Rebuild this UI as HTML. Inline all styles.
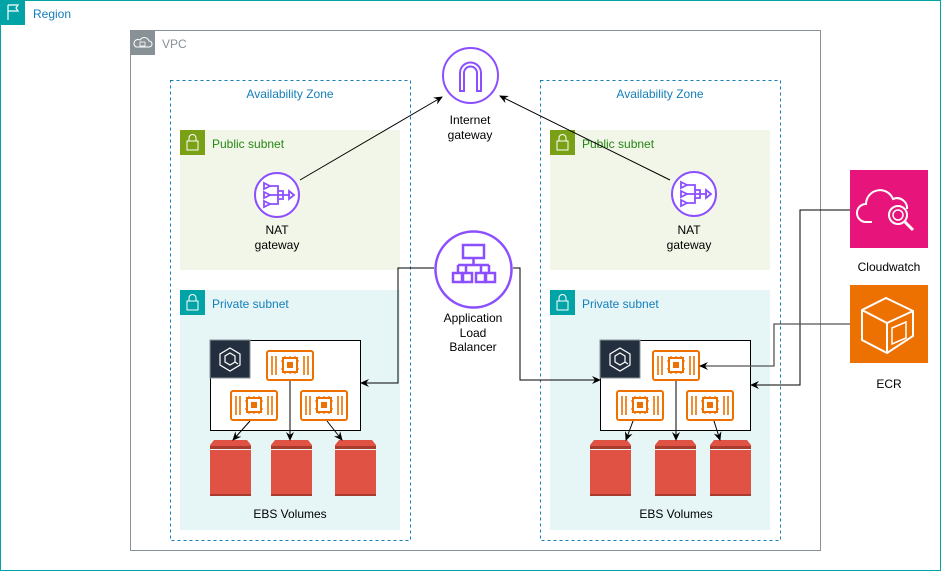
<!DOCTYPE html>
<html><head><meta charset="utf-8"><style>
html,body{margin:0;padding:0;background:#fff}
svg{display:block;font-family:"Liberation Sans",Arial,sans-serif}
</style></head><body>
<svg width="941" height="571" viewBox="0 0 941 571" xmlns="http://www.w3.org/2000/svg">
<defs>
<marker id="ar" markerWidth="10" markerHeight="10" refX="8" refY="5" orient="auto" markerUnits="userSpaceOnUse"><path d="M0,1 L9,5 L0,9 L3,5 z" fill="#000"/></marker>
<g id="inst">
<rect x="1" y="1" width="46" height="29" rx="2" fill="#fff" stroke="#ED7100" stroke-width="2"/>
<g stroke="#ED7100" stroke-width="1.6"><line x1="6" y1="6" x2="6" y2="25"/><line x1="10" y1="6" x2="10" y2="25"/><line x1="38" y1="6" x2="38" y2="25"/><line x1="42" y1="6" x2="42" y2="25"/></g>
<rect x="17" y="8" width="14" height="14" fill="none" stroke="#ED7100" stroke-width="2"/>
<rect x="21" y="12" width="6" height="6" fill="#ED7100"/>
<g stroke="#ED7100" stroke-width="1.2"><line x1="19" y1="6" x2="19" y2="8"/><line x1="24" y1="6" x2="24" y2="8"/><line x1="29" y1="6" x2="29" y2="8"/><line x1="19" y1="22" x2="19" y2="24"/><line x1="24" y1="22" x2="24" y2="24"/><line x1="29" y1="22" x2="29" y2="24"/><line x1="15" y1="11" x2="17" y2="11"/><line x1="15" y1="19" x2="17" y2="19"/><line x1="31" y1="11" x2="33" y2="11"/><line x1="31" y1="19" x2="33" y2="19"/></g>
</g>
<g id="ebs">
<path d="M4,0 H37 L41,5 V8 H0 V5 z" fill="#E05243"/>
<rect x="0" y="6" width="41" height="3" fill="#A93A2E"/>
<rect x="0" y="10" width="41" height="46" fill="#E05243"/>
<rect x="0" y="54" width="41" height="2" fill="#A93A2E"/>
</g>
<g id="ecs">
<rect x="0" y="0" width="40" height="38" fill="#232F3E" stroke="#879196"/>
<path d="M20,8 L30,14 V25 L20,31 L10,25 V14 z" fill="none" stroke="#fff" stroke-width="1.2"/>
<path d="M20,13 L25,16 V22 L20,25 L15,22 V16 z M25,22 L28,24" fill="none" stroke="#fff" stroke-width="1.2"/>
</g>
<g id="nat">
<circle cx="0" cy="0" r="22" fill="#fff" stroke="#8C4FFF" stroke-width="2"/>
<g fill="none" stroke="#8C4FFF" stroke-width="1.8"><path d="M-13,-12 l6,3 l-6,3 z M-13,-3 l6,3 l-6,3 z M-13,6 l6,3 l-6,3 z"/><path d="M-7,-9 H1 V9 H-7 M-7,0 H13 M1,-4 H6 V4 H1"/><path d="M12,-4 l5,4 l-5,4 z"/></g>
</g>
</defs>

<rect x="0.5" y="0.5" width="940" height="570" fill="#fff" stroke="#00A4A6"/>
<rect x="0" y="0" width="25" height="25" fill="#00A4A6"/>
<path d="M8,20 V5 M8,5 H18 L16,8 L18,11 H8" fill="none" stroke="#fff" stroke-width="1.2"/>
<text x="33" y="18" font-size="12" fill="#147EBA">Region</text>

<rect x="130.5" y="30.5" width="690" height="520" fill="#fff" stroke="#879196"/>
<rect x="130" y="30" width="25" height="25" fill="#879196"/>
<path d="M136,47 h13 a3,3 0 0 0 0,-6 a5,5 0 0 0 -9,-1 a3,3 0 0 0 -4,7 z" fill="none" stroke="#fff" stroke-width="1"/>
<rect x="140" y="42" width="5" height="4" fill="none" stroke="#fff" stroke-width="0.8"/>
<text x="162" y="48" font-size="12" fill="#879196">VPC</text>

<rect x="170.5" y="80.5" width="240" height="460" fill="none" stroke="#147EBA" stroke-dasharray="3,3"/>
<rect x="540.5" y="80.5" width="240" height="460" fill="none" stroke="#147EBA" stroke-dasharray="3,3"/>
<text x="290" y="98" font-size="12" fill="#147EBA" text-anchor="middle">Availability Zone</text>
<text x="660" y="98" font-size="12" fill="#147EBA" text-anchor="middle">Availability Zone</text>

<rect x="180" y="130" width="220" height="140" fill="#F2F6E8"/>
<rect x="550" y="130" width="220" height="140" fill="#F2F6E8"/>
<rect x="180" y="130" width="25" height="25" fill="#7AA116"/>
<rect x="550" y="130" width="25" height="25" fill="#7AA116"/>
<g fill="none" stroke="#fff" stroke-width="1"><rect x="187" y="141" width="11" height="9"/><path d="M189,141 v-3 a3.5,3.5 0 0 1 7,0 v3"/><rect x="557" y="141" width="11" height="9"/><path d="M559,141 v-3 a3.5,3.5 0 0 1 7,0 v3"/></g>
<text x="212" y="148" font-size="12" fill="#248814">Public subnet</text>
<text x="582" y="148" font-size="12" fill="#248814">Public subnet</text>

<rect x="180" y="290" width="220" height="240" fill="#E6F6F7"/>
<rect x="550" y="290" width="220" height="240" fill="#E6F6F7"/>
<rect x="180" y="290" width="25" height="25" fill="#00A4A6"/>
<rect x="550" y="290" width="25" height="25" fill="#00A4A6"/>
<g fill="none" stroke="#fff" stroke-width="1"><rect x="187" y="301" width="11" height="9"/><path d="M189,301 v-3 a3.5,3.5 0 0 1 7,0 v3"/><rect x="557" y="301" width="11" height="9"/><path d="M559,301 v-3 a3.5,3.5 0 0 1 7,0 v3"/></g>
<text x="212" y="308" font-size="12" fill="#147EBA">Private subnet</text>
<text x="582" y="308" font-size="12" fill="#147EBA">Private subnet</text>

<use href="#nat" x="277" y="195"/>
<use href="#nat" x="694" y="194"/>
<g font-size="12" fill="#000" text-anchor="middle">
<text x="277" y="234">NAT</text><text x="277" y="249">gateway</text>
<text x="689" y="234">NAT</text><text x="689" y="249">gateway</text>
</g>

<circle cx="470.5" cy="75.5" r="27.5" fill="#fff" stroke="#8C4FFF" stroke-width="2"/>
<path d="M460,91 V73 a10.5,10.5 0 0 1 21,0 V91 H477 V73 a6.5,6.5 0 0 0 -13,0 V91 z" fill="none" stroke="#8C4FFF" stroke-width="2"/>
<text x="470" y="124" font-size="12" text-anchor="middle">Internet</text>
<text x="470" y="139" font-size="12" text-anchor="middle">gateway</text>

<circle cx="473.5" cy="269.5" r="38" fill="#fff" stroke="#8C4FFF" stroke-width="2.5"/>
<g fill="none" stroke="#8C4FFF" stroke-width="2.5">
<rect x="463" y="245" width="21" height="13"/>
<path d="M473.5,258 V265 M458,265 H489 M458,265 V272 M489,265 V272 M466,272 V265 M481,272 V265"/>
<rect x="453" y="273" width="9" height="9"/><rect x="463" y="273" width="9" height="9"/><rect x="476" y="273" width="9" height="9"/><rect x="486" y="273" width="9" height="9"/>
</g>
<g font-size="12" text-anchor="middle"><text x="473" y="322">Application</text><text x="473" y="337">Load</text><text x="473" y="351">Balancer</text></g>

<rect x="210.5" y="340.5" width="150" height="90" fill="#fff" stroke="#000"/>
<rect x="600.5" y="340.5" width="150" height="90" fill="#fff" stroke="#000"/>
<use href="#ecs" x="210" y="340"/>
<use href="#ecs" x="600" y="340"/>
<use href="#inst" x="266" y="350"/>
<use href="#inst" x="230" y="390"/>
<use href="#inst" x="300" y="390"/>
<use href="#inst" x="652" y="350"/>
<use href="#inst" x="616" y="390"/>
<use href="#inst" x="686" y="390"/>

<use href="#ebs" x="210" y="440"/>
<use href="#ebs" x="271" y="440"/>
<use href="#ebs" x="335" y="440"/>
<use href="#ebs" x="590" y="440"/>
<use href="#ebs" x="655" y="440"/>
<use href="#ebs" x="710" y="440"/>
<text x="290" y="518" font-size="12" text-anchor="middle">EBS Volumes</text>
<text x="676" y="518" font-size="12" text-anchor="middle">EBS Volumes</text>

<rect x="850" y="170" width="78" height="78" fill="#E7157B"/>
<path d="M872,222 h-6 a9,9 0 0 1 0,-18 a14,14 0 0 1 27,-5 a10,10 0 0 1 14,10" fill="none" stroke="#fff" stroke-width="2"/>
<circle cx="898" cy="215" r="9" fill="none" stroke="#fff" stroke-width="2"/>
<circle cx="898" cy="215" r="5" fill="none" stroke="#fff" stroke-width="1.5"/>
<path d="M905,222 l8,8" stroke="#fff" stroke-width="3"/>
<text x="889" y="271" font-size="12" text-anchor="middle">Cloudwatch</text>

<rect x="850" y="285" width="78" height="78" fill="#ED7100"/>
<path d="M862,310 L886,298 L913,311 L913,336 L887,353 L862,340 z M862,310 L887,323 L913,311 M887,323 V353" fill="none" stroke="#fff" stroke-width="2"/>
<path d="M892,328 l14,-6 v16 l-14,6 z" fill="none" stroke="#fff" stroke-width="1.5"/>
<text x="889" y="388" font-size="12" text-anchor="middle">ECR</text>

<g fill="none" stroke="#000" stroke-width="1">
<line x1="300" y1="180" x2="442" y2="97" marker-end="url(#ar)"/>
<line x1="670" y1="180" x2="500" y2="96" marker-end="url(#ar)"/>
<path d="M434,268 H398 V383 H361" marker-end="url(#ar)"/>
<path d="M513,268 H520 V380 H600" marker-end="url(#ar)"/>
<path d="M850,210 H800 V385 H751" marker-end="url(#ar)"/>
<path d="M850,324 H774 V366 H700" stroke="#555" stroke-width="1.3" marker-end="url(#ar)"/>
<line x1="290" y1="381" x2="290" y2="440" marker-end="url(#ar)"/>
<line x1="250" y1="421" x2="233" y2="440" marker-end="url(#ar)"/>
<line x1="327" y1="421" x2="342" y2="440" marker-end="url(#ar)"/>
<line x1="676" y1="381" x2="676" y2="440" marker-end="url(#ar)"/>
<line x1="633" y1="421" x2="626" y2="440" marker-end="url(#ar)"/>
<line x1="714" y1="421" x2="720" y2="440" marker-end="url(#ar)"/>
</g>
</svg>
</body></html>
